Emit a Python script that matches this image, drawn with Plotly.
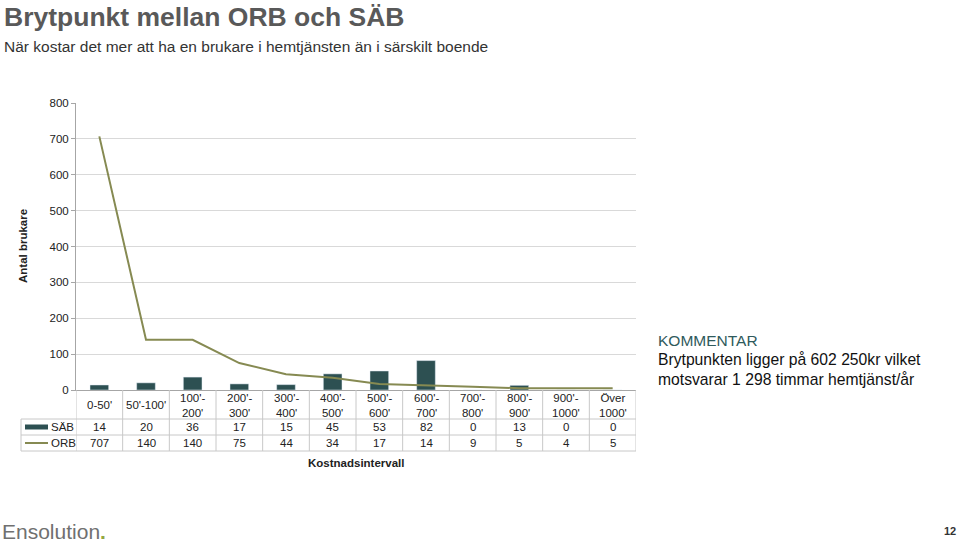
import plotly.graph_objects as go

categories = ["0-50'", "50'-100'", "100'-<br>200'", "200'-<br>300'", "300'-<br>400'", "400'-<br>500'",
              "500'-<br>600'", "600'-<br>700'", "700'-<br>800'", "800'-<br>900'", "900'-<br>1000'", "Över<br>1000'"]
sab = [14, 20, 36, 17, 15, 45, 53, 82, 0, 13, 0, 0]
orb = [707, 140, 140, 75, 44, 34, 17, 14, 9, 5, 4, 5]
y_ticks = [0, 100, 200, 300, 400, 500, 600, 700, 800]

BAR = "#2d5052"
LINE = "#868a52"
GRID = "#d9d9d9"
TXT = "#222222"
FONT = "Liberation Sans, Arial, sans-serif"

W, H = 960, 542
PL, PR, PT, PB = 76, 636, 103, 390
L, T = PL, PT
R = W - PR
B = H - PB
PH = PB - PT
PW = PR - PL

def py(px):
    return (PB - px) / PH

def pxx(px):
    return (px - PL) / PW

idx = list(range(len(categories)))

fig = go.Figure()
fig.add_trace(go.Bar(x=idx, y=sab, marker_color=BAR, width=0.4, name="SÄB"))
fig.add_trace(go.Scatter(x=idx, y=orb, mode="lines", line=dict(color=LINE, width=2), name="ORB"))

shapes = []
ann = []
n = len(categories)
y_cat_bot = 419
y_mid = 435
y_bot = 451
x_left = 21
tline = dict(color="#c8c8c8", width=1)
for i in range(n + 1):
    shapes.append(dict(type="line", xref="x", yref="paper", x0=i - 0.5, x1=i - 0.5,
                       y0=py(PB), y1=py(y_bot), line=tline))
shapes.append(dict(type="line", xref="paper", yref="paper", x0=pxx(x_left), x1=pxx(x_left),
                   y0=py(y_cat_bot), y1=py(y_bot), line=tline))
for yy in (y_cat_bot, y_mid, y_bot):
    shapes.append(dict(type="line", xref="paper", yref="paper", x0=pxx(x_left), x1=1,
                       y0=py(yy), y1=py(yy), line=tline))
# legend keys
shapes.append(dict(type="rect", xref="paper", yref="paper", x0=pxx(25), x1=pxx(48),
                   y0=py(429.5), y1=py(424.5), fillcolor=BAR, line=dict(width=0)))
shapes.append(dict(type="line", xref="paper", yref="paper", x0=pxx(25), x1=pxx(48),
                   y0=py(443), y1=py(443), line=dict(color=LINE, width=2)))
TF = dict(size=11.5, color=TXT, family=FONT)
ann.append(dict(text="SÄB", xref="paper", yref="paper", x=pxx(49), y=py(427), xanchor="left",
                yanchor="middle", showarrow=False, font=TF))
ann.append(dict(text="ORB", xref="paper", yref="paper", x=pxx(49), y=py(443), xanchor="left",
                yanchor="middle", showarrow=False, font=TF))

for i in idx:
    ann.append(dict(text=categories[i], xref="x", yref="paper", x=i, y=py(405), showarrow=False,
                    yanchor="middle", font=TF))
    ann.append(dict(text=str(sab[i]), xref="x", yref="paper", x=i, y=py(427), showarrow=False,
                    yanchor="middle", font=TF))
    ann.append(dict(text=str(orb[i]), xref="x", yref="paper", x=i, y=py(443), showarrow=False,
                    yanchor="middle", font=TF))

ann.append(dict(text="<b>Kostnadsintervall</b>", xref="paper", yref="paper", x=0.5, y=py(463),
                showarrow=False, yanchor="middle", font=dict(size=11.5, color=TXT, family=FONT)))
ann.append(dict(text="<b>Antal brukare</b>", xref="paper", yref="paper", x=pxx(23), y=py(246),
                textangle=-90, showarrow=False, xanchor="center", yanchor="middle",
                font=dict(size=11.5, color=TXT, family=FONT)))

# titles
ann.append(dict(text="<b>Brytpunkt mellan ORB och SÄB</b>", xref="paper", yref="paper", x=pxx(2),
                y=py(17), xanchor="left", yanchor="middle", showarrow=False,
                font=dict(size=26.5, color="#595959", family=FONT)))
ann.append(dict(text="När kostar det mer att ha en brukare i hemtjänsten än i särskilt boende",
                xref="paper", yref="paper", x=pxx(2), y=py(46), xanchor="left", yanchor="middle",
                showarrow=False, font=dict(size=15.5, color="#333333", family=FONT)))

# comment
ann.append(dict(text="KOMMENTAR", xref="paper", yref="paper", x=pxx(656), y=py(340), xanchor="left",
                yanchor="middle", showarrow=False, font=dict(size=15.5, color="#2f5a5c", family=FONT)))
ann.append(dict(text="Brytpunkten ligger på 602 250kr vilket<br>motsvarar 1 298 timmar hemtjänst/år",
                xref="paper", yref="paper", x=pxx(656), y=py(369.5), xanchor="left", yanchor="middle",
                align="left", showarrow=False, font=dict(size=15.7, color="#111111", family=FONT)))

# footer
ann.append(dict(text="Ensolution<span style='color:#93a640'><b>.</b></span>", xref="paper", yref="paper",
                x=pxx(0), y=py(531), xanchor="left", yanchor="middle", showarrow=False,
                font=dict(size=21, color="#707070", family=FONT)))
ann.append(dict(text="<b>12</b>", xref="paper", yref="paper", x=pxx(958), y=py(531), xanchor="right",
                yanchor="middle", showarrow=False, font=dict(size=11, color="#333333", family=FONT)))

fig.update_layout(
    width=W, height=H,
    margin=dict(l=L, r=R, t=T, b=B, autoexpand=False),
    paper_bgcolor="white", plot_bgcolor="white",
    showlegend=False,
    shapes=shapes, annotations=ann,
    font=dict(family=FONT, color=TXT, size=11),
)
fig.update_xaxes(type="linear", range=[-0.5, n - 0.5], showticklabels=False, showgrid=False,
                 zeroline=False, showline=True, linecolor="#a6a6a6", ticks="")
fig.update_yaxes(range=[0, 800], tickvals=y_ticks, showgrid=True, gridcolor=GRID, zeroline=False,
                 showline=True, linecolor="#a6a6a6", ticks="outside", ticklen=4, tickcolor="#a6a6a6",
                 tickfont=dict(size=11.5, color=TXT, family=FONT))

fig.write_html("out.html", config={"displayModeBar": False},
               post_script="document.body.style.margin='0';document.body.style.overflow='hidden';")
